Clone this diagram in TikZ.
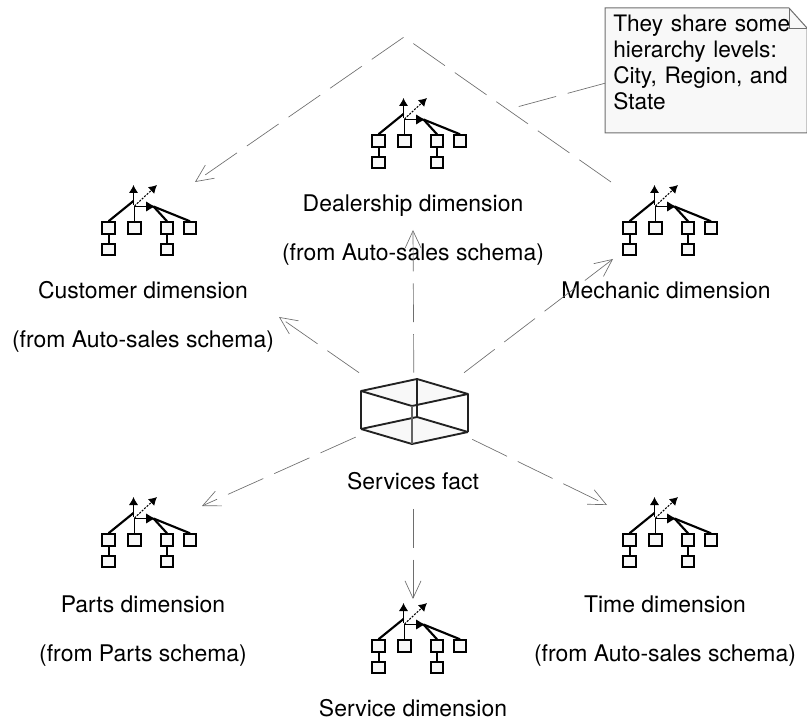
\documentclass[tikz,border=0pt]{standalone}
\usepackage{fontspec}
\setmainfont{TeX Gyre Heros}
\usetikzlibrary{arrows.meta,calc}
\definecolor{linkgray}{HTML}{6E6E6E}
\definecolor{facegray}{HTML}{F8F8F8}
\definecolor{darkline}{HTML}{222222}
\tikzset{
  label text/.style={font=\fontsize{17.2}{20}\selectfont,inner sep=0pt,text height=12pt,text depth=3.5pt},
  link/.style={draw=linkgray,line width=0.5pt,dash pattern=on 29pt off 9pt},
  linkarrow/.style={link,-{Straight Barb[length=13pt,width=12pt,line width=0.5pt]}},
  levelbox/.style={draw=black,fill=facegray,line width=1.5pt,inner sep=0pt,minimum width=9.2pt,minimum height=8.6pt},
  cubeedge/.style={draw=darkline,line width=1.4pt,line join=round},
  dimicon/.pic={
    \node[levelbox] (-a) at (-25,22) {};
    \node[levelbox] (-b) at (1,22) {};
    \node[levelbox] (-c) at (33.5,22) {};
    \node[levelbox] (-d) at (56.5,22) {};
    \node[levelbox] (-e) at (-25,43.5) {};
    \node[levelbox] (-f) at (33.5,43.5) {};
    \coordinate (-root) at (0,-5);
    \coordinate (-hub) at (20,0.5);
    \path[draw,line width=1.5pt] (-a) -- (-e);
    \path[draw,line width=1.5pt] (-c) -- (-f);
    \path[draw,line width=1.6pt] (-a.north) -- (-root);
    \path[draw,line width=1.4pt] (-b.north) -- (1,0);
    \path[draw,line width=1.6pt] (-c.north) -- (-hub);
    \path[draw,line width=1.6pt] (-d.north) -- (-hub);
    \path[draw,line width=0.8pt,-{Latex[length=6pt,width=7pt]}] (0,-1) -- (0,-21);
    \path[draw,line width=0.8pt,dash pattern=on 1.5pt off 1pt,-{Latex[length=6pt,width=7pt]}] (1,0) -- (23.5,-21);
    \path[draw,line width=1.4pt,-{Latex[length=7pt,width=8pt]}] (1,0.5) -- (22,0.5);
  }
}
\begin{document}
\begin{tikzpicture}[x=0.75pt,y=-0.75pt]
\useasboundingbox (0,0) rectangle (807,723);
% fact cube
\coordinate (ta) at (417,379);
\coordinate (tb) at (361,391);
\coordinate (tc) at (412,406);
\coordinate (td) at (468,394);
\coordinate (ba) at (417,417);
\coordinate (bb) at (361,429);
\coordinate (bc) at (412,444);
\coordinate (bd) at (468,432);
\path[fill=facegray] (ta) -- (tb) -- (tc) -- (td) -- cycle;
\path[fill=facegray] (ba) -- (bb) -- (bc) -- (bd) -- cycle;
\draw[cubeedge] (ta) -- (ba);
\draw[cubeedge] (ba) -- (bb);
\draw[cubeedge] (ba) -- (bd);
\draw[cubeedge] (ta) -- (tb) -- (tc) -- (td) -- cycle;
\draw[cubeedge] (bb) -- (bc) -- (bd);
\draw[cubeedge] (tb) -- (bb);
\draw[cubeedge] (td) -- (bd);
\draw[cubeedge,draw=darkline!70] (tc) -- (bc);
\node[minimum width=87pt,minimum height=57pt,inner sep=0pt] (fact) at (414,411) {};
\node[label text,minimum height=37pt] (factlabel) at (413,484) {Services fact};

% dimension icons
\pic (customer) at (133.5,206) {dimicon};
\pic (dealership) at (403.5,119) {dimicon};
\pic (mechanic) at (654.5,206) {dimicon};
\pic (parts) at (133.5,518) {dimicon};
\pic (service) at (403.5,624) {dimicon};
\pic (time) at (654.5,518) {dimicon};

% labels
\node[label text] (customerlabel) at (143,293) {Customer dimension};
\node[label text] (customerfrom) at (143,342) {(from Auto-sales schema)};
\node[label text] (dealershiplabel) at (413,206) {Dealership dimension};
\node[label text] (dealershipfrom) at (413,255) {(from Auto-sales schema)};
\node[label text] (mechaniclabel) at (666,293) {Mechanic dimension};
\node[label text] (partslabel) at (143,607) {Parts dimension};
\node[label text] (partsfrom) at (143,656) {(from Parts schema)};
\node[label text] (servicelabel) at (413,711) {Service dimension};
\node[label text] (timelabel) at (665,607) {Time dimension};
\node[label text] (timefrom) at (665,656) {(from Auto-sales schema)};

% note
\coordinate (notefold) at (789,8);
\coordinate (notecorner) at (807,28);
\coordinate (noteinner) at (789,28);
\path[draw=linkgray,fill=facegray,line width=0.75pt] (605,8) -- (notefold) -- (notecorner) -- (807,133) -- (605,133) -- cycle;
\path[draw=linkgray,line width=0.6pt] (notefold) -- (noteinner) -- (notecorner);
\node[font=\fontsize{17}{19.6}\selectfont,anchor=north west,minimum width=151.5pt,inner xsep=6pt,inner ysep=4pt,text width=139.5pt,align=left,text depth=72pt] (note) at (605,9)
  {They share some\\hierarchy levels:\\City, Region, and\\State};

% connector ends
\coordinate (apex) at (404,37);
\coordinate (customerend) at (279,317);
\coordinate (customertop) at (195,182);
\coordinate (dealershipend) at (413,230);
\coordinate (mechanicend) at (613,259);
\coordinate (mechanictop) at (611,182);
\coordinate (partsend) at (202,506);
\coordinate (serviceend) at (413,599);
\coordinate (timeend) at (607,505);
\coordinate (notelink) at (517,107);

\path[linkarrow] (fact) -- (customerend);
\path[linkarrow] (fact) -- (dealershipend);
\path[linkarrow] (fact) -- (mechanicend);
\path[linkarrow] (fact) -- (partsend);
\path[linkarrow] (factlabel) -- (serviceend);
\path[linkarrow] (fact) -- (timeend);
\path[linkarrow] (mechanictop) -- (apex) -- (customertop);
\path[link] ($(note.south west)!0.4!(note.north west)$) -- (notelink);
\end{tikzpicture}
\end{document}
